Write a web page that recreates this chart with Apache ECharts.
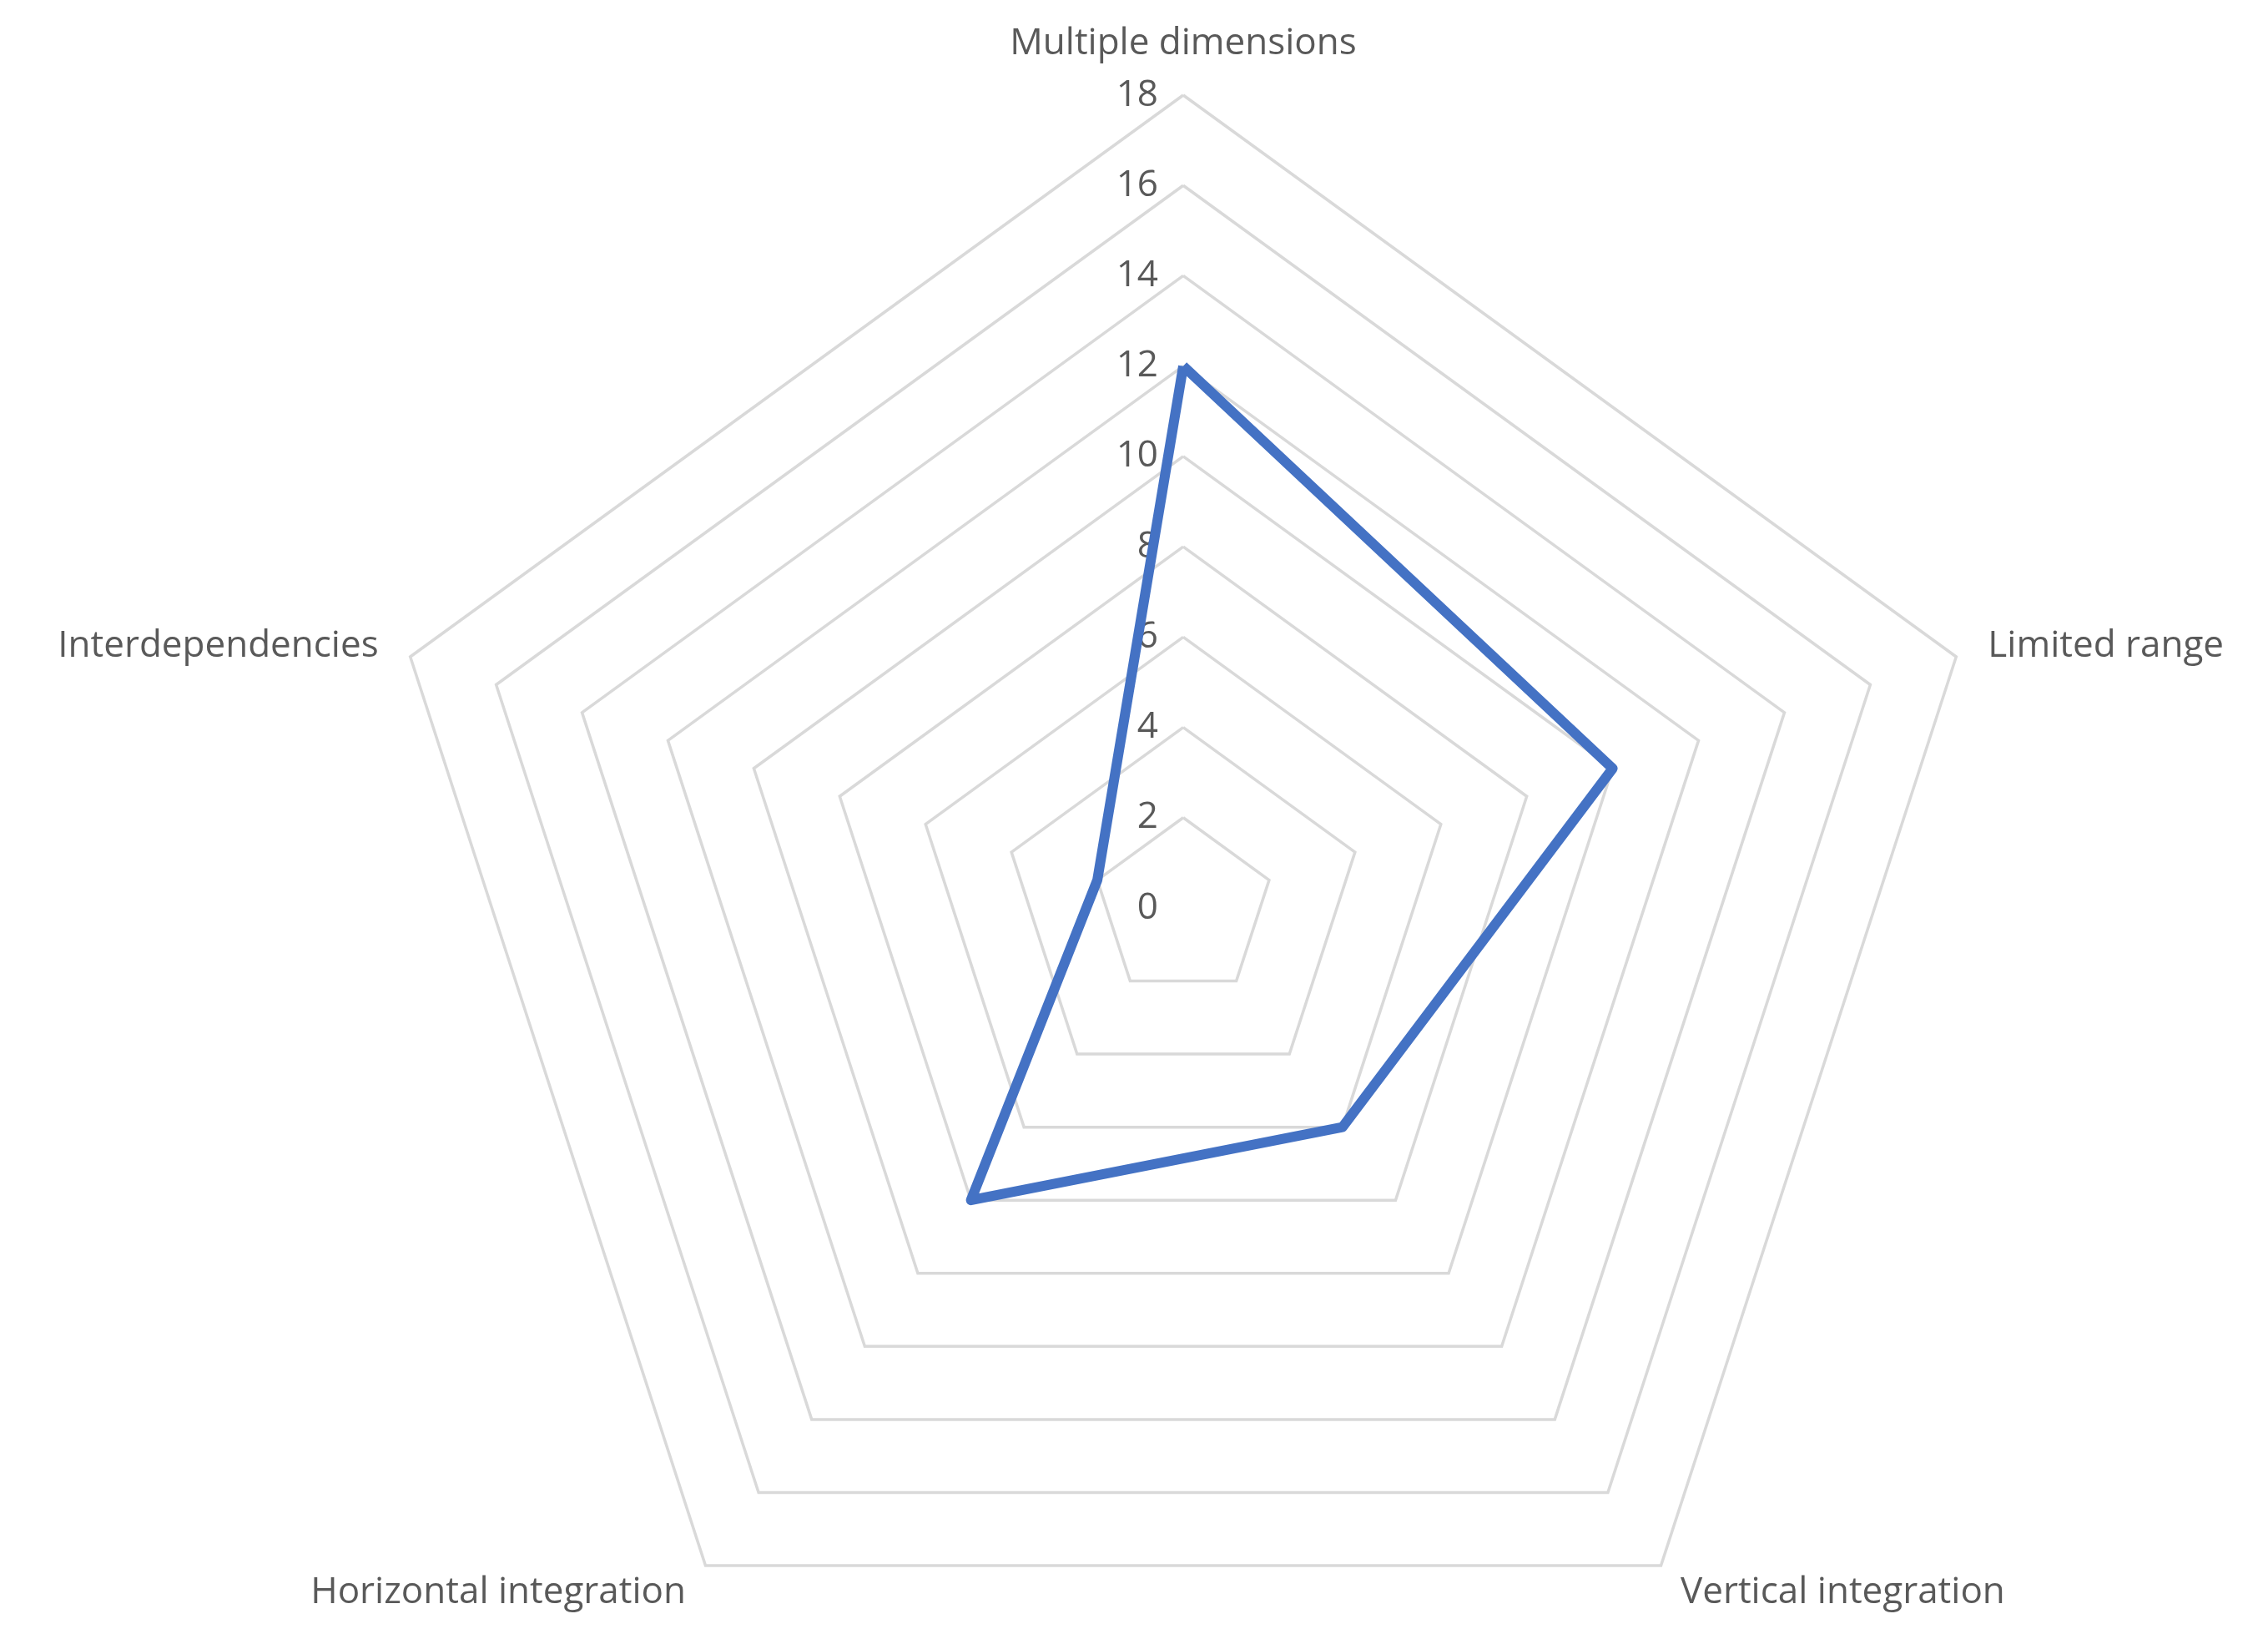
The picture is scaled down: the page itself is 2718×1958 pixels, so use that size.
<!DOCTYPE html>
<html>
<head>
<meta charset="utf-8">
<script src="https://cdn.jsdelivr.net/npm/echarts@6/dist/echarts.min.js"></script>
<style>html,body{margin:0;padding:0;background:#fff}#chart{width:2718px;height:1958px}</style>
</head>
<body>
<div id="chart"></div>
<script>
// order follows ECharts' counter-clockwise placement so the picture reads clockwise
var dimensions = ['Multiple dimensions', 'Interdependencies', 'Horizontal integration', 'Vertical integration', 'Limited range'];
var values = [12, 2, 8, 6, 10];
var axisMax = 18;

var chart = echarts.init(document.getElementById('chart'));

var indicators = dimensions.map(function (d, i) {
    var ind = { name: d, min: 0, max: axisMax };
    if (i === 0) {
        ind.axisLabel = { show: true, color: '#595959', fontSize: 44, margin: 30, fontFamily: 'Open Sans' };
    }
    return ind;
});

chart.setOption({
    backgroundColor: '#fff',
    radar: {
        center: [1418, 1088],
        radius: 974,
        startAngle: 90,
        splitNumber: 9,
        shape: 'polygon',
        indicator: indicators,
        axisName: { color: '#595959', fontSize: 44, fontFamily: 'Open Sans' },
        nameGap: 40,
        axisLine: { show: false },
        axisTick: { show: false },
        axisLabel: { show: false },
        splitLine: { lineStyle: { color: '#d9d9d9', width: 3.5 } },
        splitArea: { show: false }
    },
    series: [{
        type: 'radar',
        symbol: 'none',
        lineStyle: { color: '#4472C4', width: 12 },
        data: [{ value: values, name: 'Score' }]
    }]
});
</script>
</body>
</html>
